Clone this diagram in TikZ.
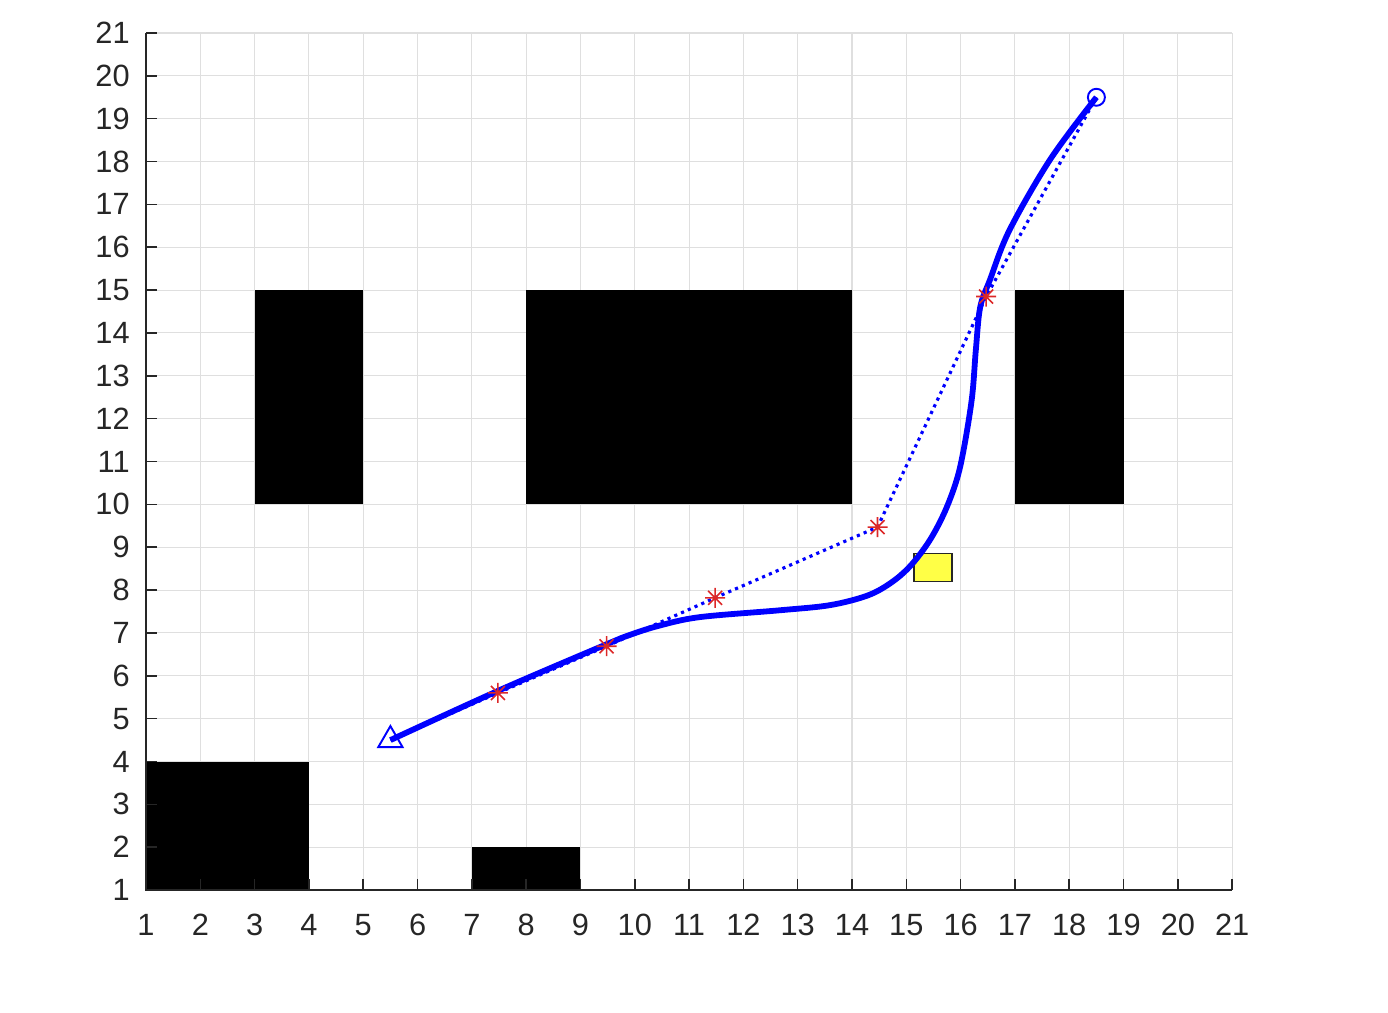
\documentclass[tikz,border=0pt]{standalone}
\usepackage{fontspec}
\setsansfont{Liberation Sans}
\usetikzlibrary{shapes.geometric}
\definecolor{axisgray}{RGB}{38,38,38}
\definecolor{gridgray}{RGB}{223,223,223}
\definecolor{starred}{RGB}{220,40,40}
\definecolor{boxyellow}{RGB}{255,255,70}

\begin{document}
\begin{tikzpicture}[
    x=1.086cm, y=0.857cm,
    gridline/.style={draw=gridgray, line width=0.6pt},
    axisline/.style={draw=axisgray, line width=0.9pt},
    ticklabel/.style={font=\sffamily\fontsize{17.5}{20}\selectfont, text=axisgray, inner sep=0pt},
    block/.style={fill=black},
    route/.style={draw=blue, line width=1.8pt, dash pattern=on 1.8pt off 2.4pt},
    smoothpath/.style={draw=blue, line width=3.3pt, line join=round},
    startmark/.style={circle, draw=blue, line width=1.1pt, inner sep=0pt, minimum size=0.34cm},
    goalmark/.style={regular polygon, regular polygon sides=3, draw=blue, line width=1.1pt, inner sep=0pt, minimum size=0.56cm},
    movbox/.style={draw=axisgray, line width=0.9pt, fill=boxyellow},
    waystar/.pic={
        \draw[starred, line width=0.9pt] (-0.2cm,0) -- (0.2cm,0) (0,-0.2cm) -- (0,0.2cm)
            (-0.14cm,-0.14cm) -- (0.14cm,0.14cm) (-0.14cm,0.14cm) -- (0.14cm,-0.14cm);
    }
]
\useasboundingbox (-1.689,-1.847) rectangle (23.87,21.77);

% Grid
\foreach \v in {2,...,21} {
    \draw[gridline] (\v,1) -- (\v,21);
    \draw[gridline] (1,\v) -- (21,\v);
}

% Obstacles
\fill[block] (3,10) rectangle (5,15);
\fill[block] (8,10) rectangle (14,15);
\fill[block] (17,10) rectangle (19,15);
\fill[block] (1,1) rectangle (4,4);
\fill[block] (7,1) rectangle (9,2);

% Axes and tick labels
\draw[axisline] (1,21) -- (1,1) -- (21,1);
\foreach \v in {1,...,21} {
    \draw[axisline] (\v,1) -- ++(0pt,0.22cm);
    \draw[axisline] (1,\v) -- ++(0.22cm,0pt);
    \node[ticklabel] (xl\v) at (\v,0.18) {\v};
    \node[ticklabel, anchor=east] (yl\v) at (0.705,\v) {\v};
}

% Moving obstacle
\node[movbox, minimum width=0.76cm, minimum height=0.56cm, inner sep=0pt] (movobs) at (15.49,8.53) {};

% Waypoints
\coordinate (w0) at (18.5,19.5);
\coordinate (w1) at (16.47,14.85);
\coordinate (w2) at (14.47,9.47);
\coordinate (w3) at (11.48,7.82);
\coordinate (w4) at (9.48,6.69);
\coordinate (w5) at (7.48,5.6);
\coordinate (w6) at (5.5,4.5);

% Planned route
\draw[route] (w0) -- (w1) -- (w2) -- (w3) -- (w4) -- (w5) -- (w6);

% Smoothed path
\draw[smoothpath] plot[smooth, tension=0.55] coordinates {
    (18.5,19.5) (17.65,18.05) (16.9,16.4) (16.54,15.24) (16.36,14.6)
    (16.28,13.6) (16.2,12.4) (15.99,10.87) (15.75,9.95) (15.45,9.2)
    (15.1,8.6) (14.75,8.2) (14.3,7.88) (13.6,7.65) (12.68,7.53) (11.2,7.37)
    (10.45,7.17) (9.9,6.95) (9.45,6.72) (7.5,5.66) (5.5,4.5)};

% Markers
\foreach \w in {w1,w2,w3,w4,w5} \pic at (\w) {waystar};
\node[startmark] (start) at (w0) {};
\node[goalmark] (goal) at (w6) {};

\end{tikzpicture}
\end{document}
